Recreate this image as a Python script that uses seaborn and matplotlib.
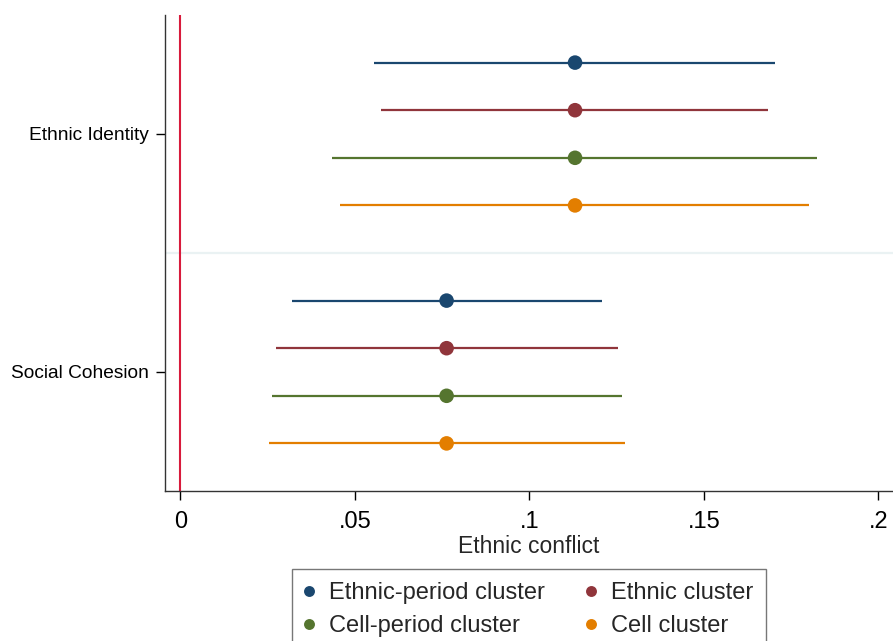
import numpy as np
import pandas as pd
import matplotlib.pyplot as plt
import seaborn as sns

# data
groups = ["Ethnic Identity", "Social Cohesion"]
specs = ["Ethnic-period cluster", "Ethnic cluster", "Cell-period cluster", "Cell cluster"]
coef = [0.1131, 0.0763]
lower_ei = [0.0555, 0.0576, 0.0434, 0.0457]
upper_ei = [0.1705, 0.1684, 0.1825, 0.1802]
lower_sc = [0.0321, 0.0273, 0.0264, 0.0253]
upper_sc = [0.1207, 0.1255, 0.1265, 0.1273]
colors = ["#1a476f", "#90353b", "#55752f", "#e37e00"]

rows = []
for g, (lo, hi) in enumerate([(lower_ei, upper_ei), (lower_sc, upper_sc)]):
    for k, s in enumerate(specs):
        rows.append({"group": groups[g], "spec": s, "coef": coef[g],
                     "lo": lo[k], "hi": hi[k], "pos": 1 + k + 5 * g})
df = pd.DataFrame(rows)

sns.set_theme(style="white")
plt.rcParams["font.family"] = ["Liberation Sans", "DejaVu Sans"]

fig = plt.figure(figsize=(8.93, 6.41), dpi=100)
ax = fig.add_axes([165 / 893, 1 - 491 / 641, 728 / 893, 476 / 641])

ax.axhline(5, color="#eaf2f3", lw=1.6, zorder=0)
ax.axvline(0, color="#d81b3c", lw=1.5, zorder=1)

pal = dict(zip(specs, colors))
for _, r in df.iterrows():
    ax.hlines(r["pos"], r["lo"], r["hi"], color=pal[r["spec"]], lw=1.6, zorder=2)
sns.scatterplot(data=df, x="coef", y="pos", hue="spec", palette=pal, s=110,
                edgecolor="none", ax=ax, zorder=3)

ax.set_xlim(-0.00438, 0.2042)
ax.set_ylim(10, 0)
ax.set_xticks([0, 0.05, 0.1, 0.15, 0.2])
ax.set_xticklabels(["0", ".05", ".1", ".15", ".2"], fontsize=17)
ax.set_yticks([2.5, 7.5])
ax.set_yticklabels(groups, fontsize=13.8)
ax.set_xlabel("Ethnic conflict", fontsize=16.5, labelpad=1)
ax.set_ylabel("")
ax.tick_params(axis="both", which="major", length=6.5, width=1, color="black",
               bottom=True, left=True, colors="black")
ax.tick_params(axis="y", pad=5)
ax.tick_params(axis="x", pad=8)

for side in ["top", "right"]:
    ax.spines[side].set_visible(False)
for side in ["left", "bottom"]:
    ax.spines[side].set_color("#333333")
    ax.spines[side].set_linewidth(1)

# legend filled row by row like the original
handles, labels = ax.get_legend_handles_labels()
order = [0, 2, 1, 3]
ax.legend([handles[i] for i in order], [labels[i] for i in order],
          loc="upper left", bbox_to_anchor=(127 / 728, -78 / 476), ncol=2,
          frameon=True, fancybox=False, fontsize=17, markerscale=0.75,
          handlelength=0.3, handletextpad=0.7, columnspacing=1.8,
          borderpad=0.55, labelspacing=0.48, borderaxespad=0)
leg = ax.get_legend()
leg.get_frame().set_edgecolor("#555555")
leg.get_frame().set_linewidth(1)

fig.savefig("out.png", dpi=100)
